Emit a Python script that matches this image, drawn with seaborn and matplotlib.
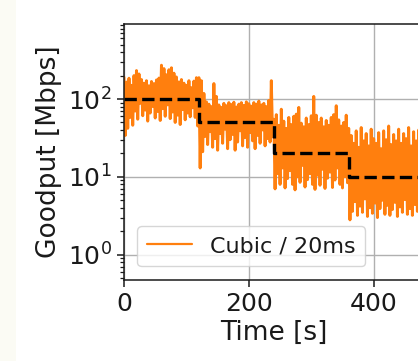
import numpy as np
import pandas as pd
import matplotlib
matplotlib.use("Agg")
import matplotlib.pyplot as plt
from matplotlib.patches import Rectangle
import seaborn as sns

# ---- data ----
step_s = 2
seg1_goodput = [190, 34, 165, 42, 185, 58, 150, 46, 200, 70, 232, 55, 210, 88, 178, 61,
                160, 72, 172, 52, 148, 66, 168, 80, 158, 57, 176, 69, 186, 53, 272, 75,
                246, 60, 205, 84, 238, 56, 252, 68, 215, 50, 192, 62, 166, 47, 178, 73,
                160, 54, 150, 66, 172, 59, 140, 77, 170, 58, 188, 45]
seg2_goodput = [188, 13, 172, 21, 118, 33, 92, 26, 86, 38, 80, 24, 158, 31, 108, 22,
                84, 36, 78, 27, 88, 41, 82, 23, 90, 30, 85, 35, 91, 22, 79, 28,
                86, 39, 90, 25, 83, 32, 92, 24, 87, 37, 81, 29, 90, 23, 86, 34,
                94, 27, 84, 40, 88, 25, 80, 31, 96, 28, 172, 33]
seg3_goodput = [55, 7, 63, 11, 46, 8, 74, 13, 52, 7.2, 42, 9.5, 58, 12, 47, 8,
                60, 6.8, 64, 10, 78, 8.5, 49, 14, 44, 7.4, 57, 9.2, 47, 11, 61, 8,
                108, 6.9, 62, 10.5, 50, 7.8, 57, 12.5, 44, 7.1, 53, 9.6, 46, 11.5, 58, 7.3,
                63, 9.1, 82, 13, 54, 8, 45, 7.2, 50, 10, 62, 8.4]
seg4_goodput = [42, 2.8, 34, 3.6, 27, 4.8, 39, 3.2, 24, 4.2, 43, 3.5, 29, 5.2, 36, 3.1,
                25, 4.0, 41, 3.4, 31, 4.6, 27, 3.0, 37, 3.9, 23, 5.0, 39, 3.3, 30, 4.3,
                45, 3.2, 26, 3.8, 35, 4.7, 29, 3.1, 41, 4.1, 27, 3.5, 36, 5.1, 31, 3.3,
                43, 3.9, 25, 3.2, 38, 4.4, 29, 3.6, 40, 3.3]
target_time = [0, 120, 240, 360, 480]
target_mbps = [100, 50, 20, 10, 10]
series_label = "Cubic / 20ms"
x_ticks = [0, 200, 400]

goodput = seg1_goodput + seg2_goodput + seg3_goodput + seg4_goodput
time_s = np.arange(len(goodput)) * step_s
df = pd.DataFrame({"time": time_s, "goodput": goodput})

# ---- style ----
sns.set_theme(style="ticks")
plt.rcParams["font.family"] = ["DejaVu Sans"]
plt.rcParams["text.color"] = "#1a1a1a"

fig = plt.figure(figsize=(4.18, 3.61), dpi=100)
fig.patch.set_facecolor("white")
fig.patches.append(Rectangle((0, 0), 16 / 418, 1, transform=fig.transFigure,
                             facecolor="#fbfbf4", edgecolor="none", zorder=-5))

ax = fig.add_axes([124 / 418, 1 - 279.5 / 361, (423 - 124) / 418, (279.5 - 24) / 361])

sns.lineplot(data=df, x="time", y="goodput", ax=ax, color="#ff7f0e", lw=2.1,
             estimator=None, sort=False, label=series_label)
sns.lineplot(x=target_time, y=target_mbps, ax=ax, color="black", lw=2.4,
             linestyle="--", drawstyle="steps-post", estimator=None, sort=False,
             legend=False)

ax.set_yscale("log")
ax.set_xlim(0, 479)
ax.set_ylim(0.48, 920)
ax.set_xticks(x_ticks)
ax.grid(True, which="major", color="#b0b0b0", lw=1.0)
ax.set_axisbelow(True)

for s in ax.spines.values():
    s.set_color("#1a1a1a")
    s.set_linewidth(1.1)
ax.tick_params(axis="both", which="major", labelsize=18, length=5, width=1.1,
               color="#1a1a1a", labelcolor="#1a1a1a", pad=4)
ax.tick_params(axis="both", which="minor", length=3, width=0.9, color="#1a1a1a")

ax.set_xlabel("Time [s]", fontsize=19, color="#1a1a1a", labelpad=3)
ax.set_ylabel("Goodput [Mbps]", fontsize=19, color="#1a1a1a", labelpad=4)

leg = ax.legend(loc="lower left", fontsize=16, frameon=True, fancybox=True,
                borderaxespad=0.6, handlelength=2.0, borderpad=0.45)
leg.get_frame().set_edgecolor("#cccccc")
for line in leg.get_lines():
    line.set_linewidth(1.6)

fig.savefig("out.png", dpi=100)
